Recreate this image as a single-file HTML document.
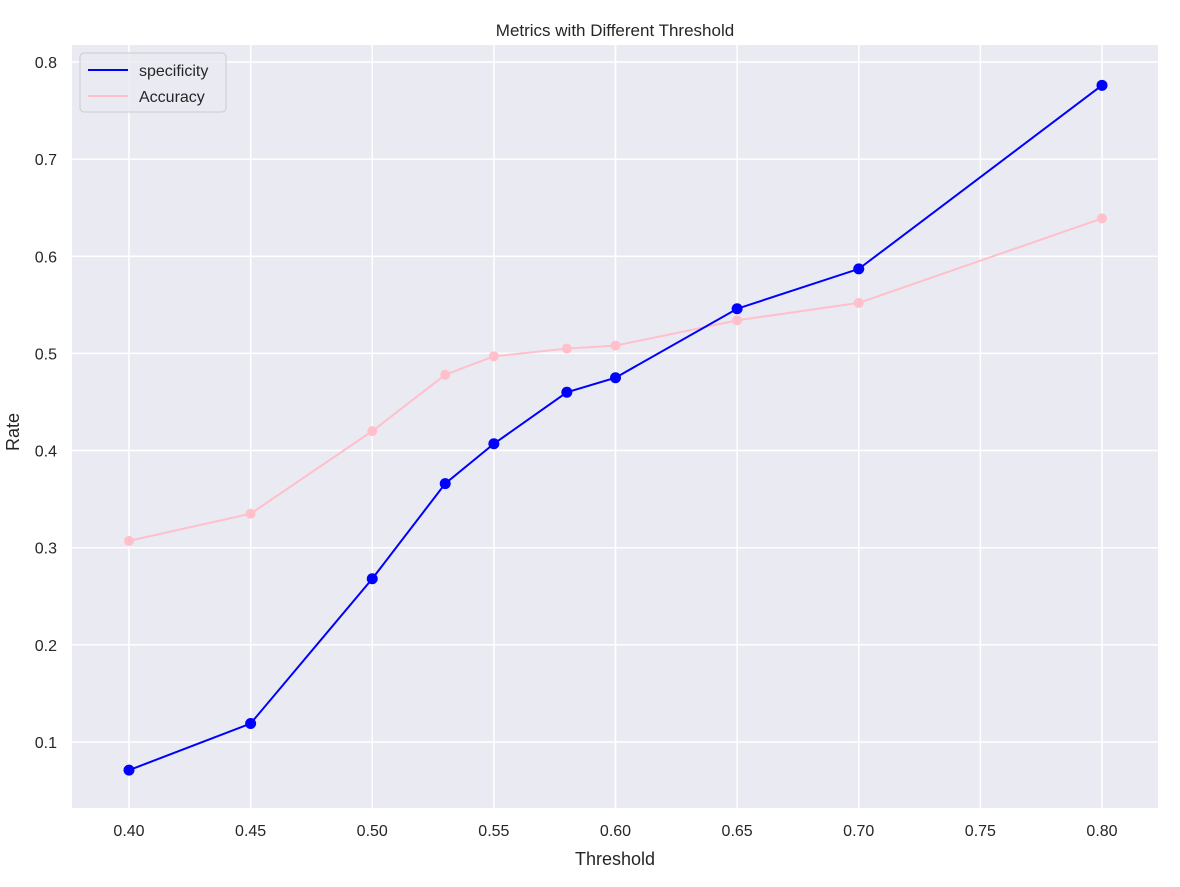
<!DOCTYPE html>
<html><head><meta charset="utf-8"><style>
body{margin:0;background:#fff;font-family:"Liberation Sans",sans-serif}
svg text{font-family:"Liberation Sans",sans-serif;fill:#262626}
</style></head><body>
<svg id="chart" width="1180" height="882"></svg>
<script>
const thresholds=[0.40,0.45,0.50,0.53,0.55,0.58,0.60,0.65,0.70,0.80];
const specificity=[0.071,0.119,0.268,0.366,0.407,0.460,0.475,0.546,0.587,0.776];
const accuracy=[0.307,0.335,0.420,0.478,0.497,0.505,0.508,0.534,0.552,0.639];
const xTicks=[0.40,0.45,0.50,0.55,0.60,0.65,0.70,0.75,0.80];
const yTicks=[0.1,0.2,0.3,0.4,0.5,0.6,0.7,0.8];
const NS="http://www.w3.org/2000/svg";
const svg=document.getElementById('chart');
const L=72,R=1158,T=45,B=808;
const xs=v=>129+(v-0.40)/0.40*973;
const ys=v=>62+(0.8-v)*971.4;
function mk(t,a,p){const e=document.createElementNS(NS,t);for(const k in a)e.setAttribute(k,a[k]);(p||svg).appendChild(e);return e;}
const bg=mk('rect',{x:L,y:T,width:R-L,height:B-T,fill:'#eaeaf2'});


xTicks.forEach(v=>{
  const g=mk('line',{x1:xs(v),x2:xs(v),y1:T,y2:B,stroke:'#fff','stroke-width':1.5});
  
  
  const t=mk('text',{x:xs(v),y:836,'text-anchor':'middle','font-size':16});
  t.textContent=v.toFixed(2);
  
  
});
yTicks.forEach(v=>{
  const g=mk('line',{x1:L,x2:R,y1:ys(v),y2:ys(v),stroke:'#fff','stroke-width':1.5});
  
  
  const t=mk('text',{x:57,y:ys(v)+6,'text-anchor':'end','font-size':16});
  t.textContent=v.toFixed(1);
  
  
});
function series(vals,color,name,r){
  const pts=thresholds.map((x,i)=>xs(x)+','+ys(vals[i])).join(' ');
  const l=mk('polyline',{points:pts,fill:'none',stroke:color,'stroke-width':2});
  
  
  thresholds.forEach((x,i)=>{
    const c=mk('circle',{cx:xs(x),cy:ys(vals[i]),r:r,fill:color});
    
    
  });
}
series(accuracy,'#ffc0cb','accuracy',5);
series(specificity,'#0000ff','specificity',5.5);
const title=mk('text',{x:615,y:36,'text-anchor':'middle','font-size':17});
title.textContent='Metrics with Different Threshold';


const xl=mk('text',{x:615,y:865,'text-anchor':'middle','font-size':18});
xl.textContent='Threshold';


const yl=mk('text',{x:19,y:432,'text-anchor':'middle','font-size':18,transform:'rotate(-90 19 432)'});
yl.textContent='Rate';


const lg=mk('g',{});


mk('rect',{x:80,y:53,width:146,height:59,rx:4,fill:'#eaeaf2',stroke:'#cccccc','fill-opacity':0.8},lg);
[['specificity','#0000ff',70],['Accuracy','#ffc0cb',96]].forEach(([n,c,y])=>{
  const e=mk('line',{x1:88,x2:128,y1:y,y2:y,stroke:c,'stroke-width':2},lg);
  
  
  const t=mk('text',{x:139,y:y+6,'font-size':16},lg);
  t.textContent=n;
  
  
});
</script>
</body></html>
